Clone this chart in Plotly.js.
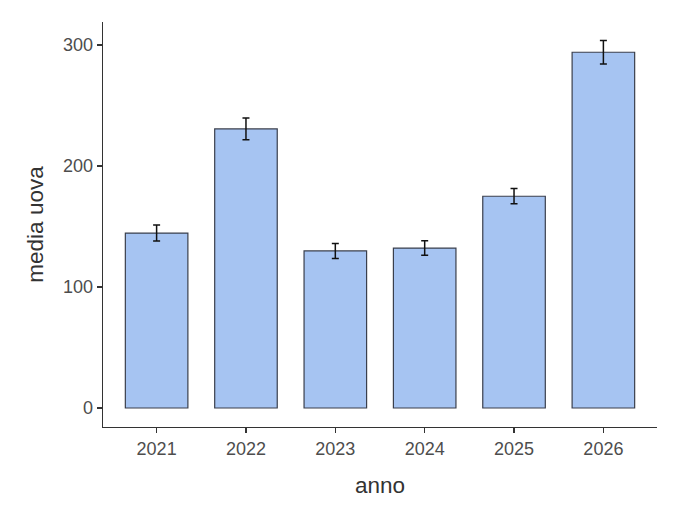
<!DOCTYPE html>
<html>
<head>
<meta charset="utf-8">
<script src="https://cdn.plot.ly/plotly-3.0.1.min.js"></script>
<style>
  html, body { margin: 0; padding: 0; background: #fff; }
  #chart { width: 680px; height: 517px; }
</style>
</head>
<body>
<div id="chart"></div>
<script>
// mean eggs per year, with error bar half-widths
const anni = ['2021', '2022', '2023', '2024', '2025', '2026'];
const mediaUova = [144.6, 230.6, 129.8, 132.2, 175.0, 294.0];
const errore = [6.6, 9.0, 6.2, 6.0, 6.3, 9.8];
const yTicks = [0, 100, 200, 300];

const trace = {
    type: 'bar',
    x: anni,
    y: mediaUova,
    width: 0.7,
    marker: {
        color: '#a6c4f2',
        line: { color: '#3a3f4c', width: 1.2 }
    },
    error_y: {
        type: 'data',
        array: errore,
        visible: true,
        color: '#111111',
        thickness: 1.5,
        width: 3.5
    },
    hoverinfo: 'none'
};

const layout = {
    width: 680,
    height: 517,
    margin: { l: 103, r: 23, t: 22, b: 90 },
    paper_bgcolor: '#ffffff',
    plot_bgcolor: '#ffffff',
    font: { family: '"Liberation Sans", Arial, sans-serif', color: '#4d4d4d', size: 18 },
    showlegend: false,
    xaxis: {
        type: 'category',
        range: [-0.6, 5.6],
        showgrid: false,
        zeroline: false,
        showline: true,
        linecolor: '#333333',
        linewidth: 1.3,
        ticks: 'outside',
        ticklen: 5,
        tickwidth: 1.3,
        tickcolor: '#333333',
        tickfont: { size: 18, color: '#4d4d4d' },
        title: { text: 'anno', font: { size: 22.5, color: '#333333' }, standoff: 19 }
    },
    yaxis: {
        range: [-15.7, 319],
        tickvals: yTicks,
        ticktext: yTicks.map(String),
        showgrid: false,
        zeroline: false,
        showline: true,
        linecolor: '#333333',
        linewidth: 1.3,
        ticks: 'outside',
        ticklen: 5,
        tickwidth: 1.3,
        tickcolor: '#333333',
        tickfont: { size: 18, color: '#4d4d4d' },
        title: { text: 'media uova', font: { size: 22.5, color: '#333333' }, standoff: 13 }
    }
};

Plotly.newPlot('chart', [trace], layout, { staticPlot: true, displayModeBar: false });
</script>
</body>
</html>
